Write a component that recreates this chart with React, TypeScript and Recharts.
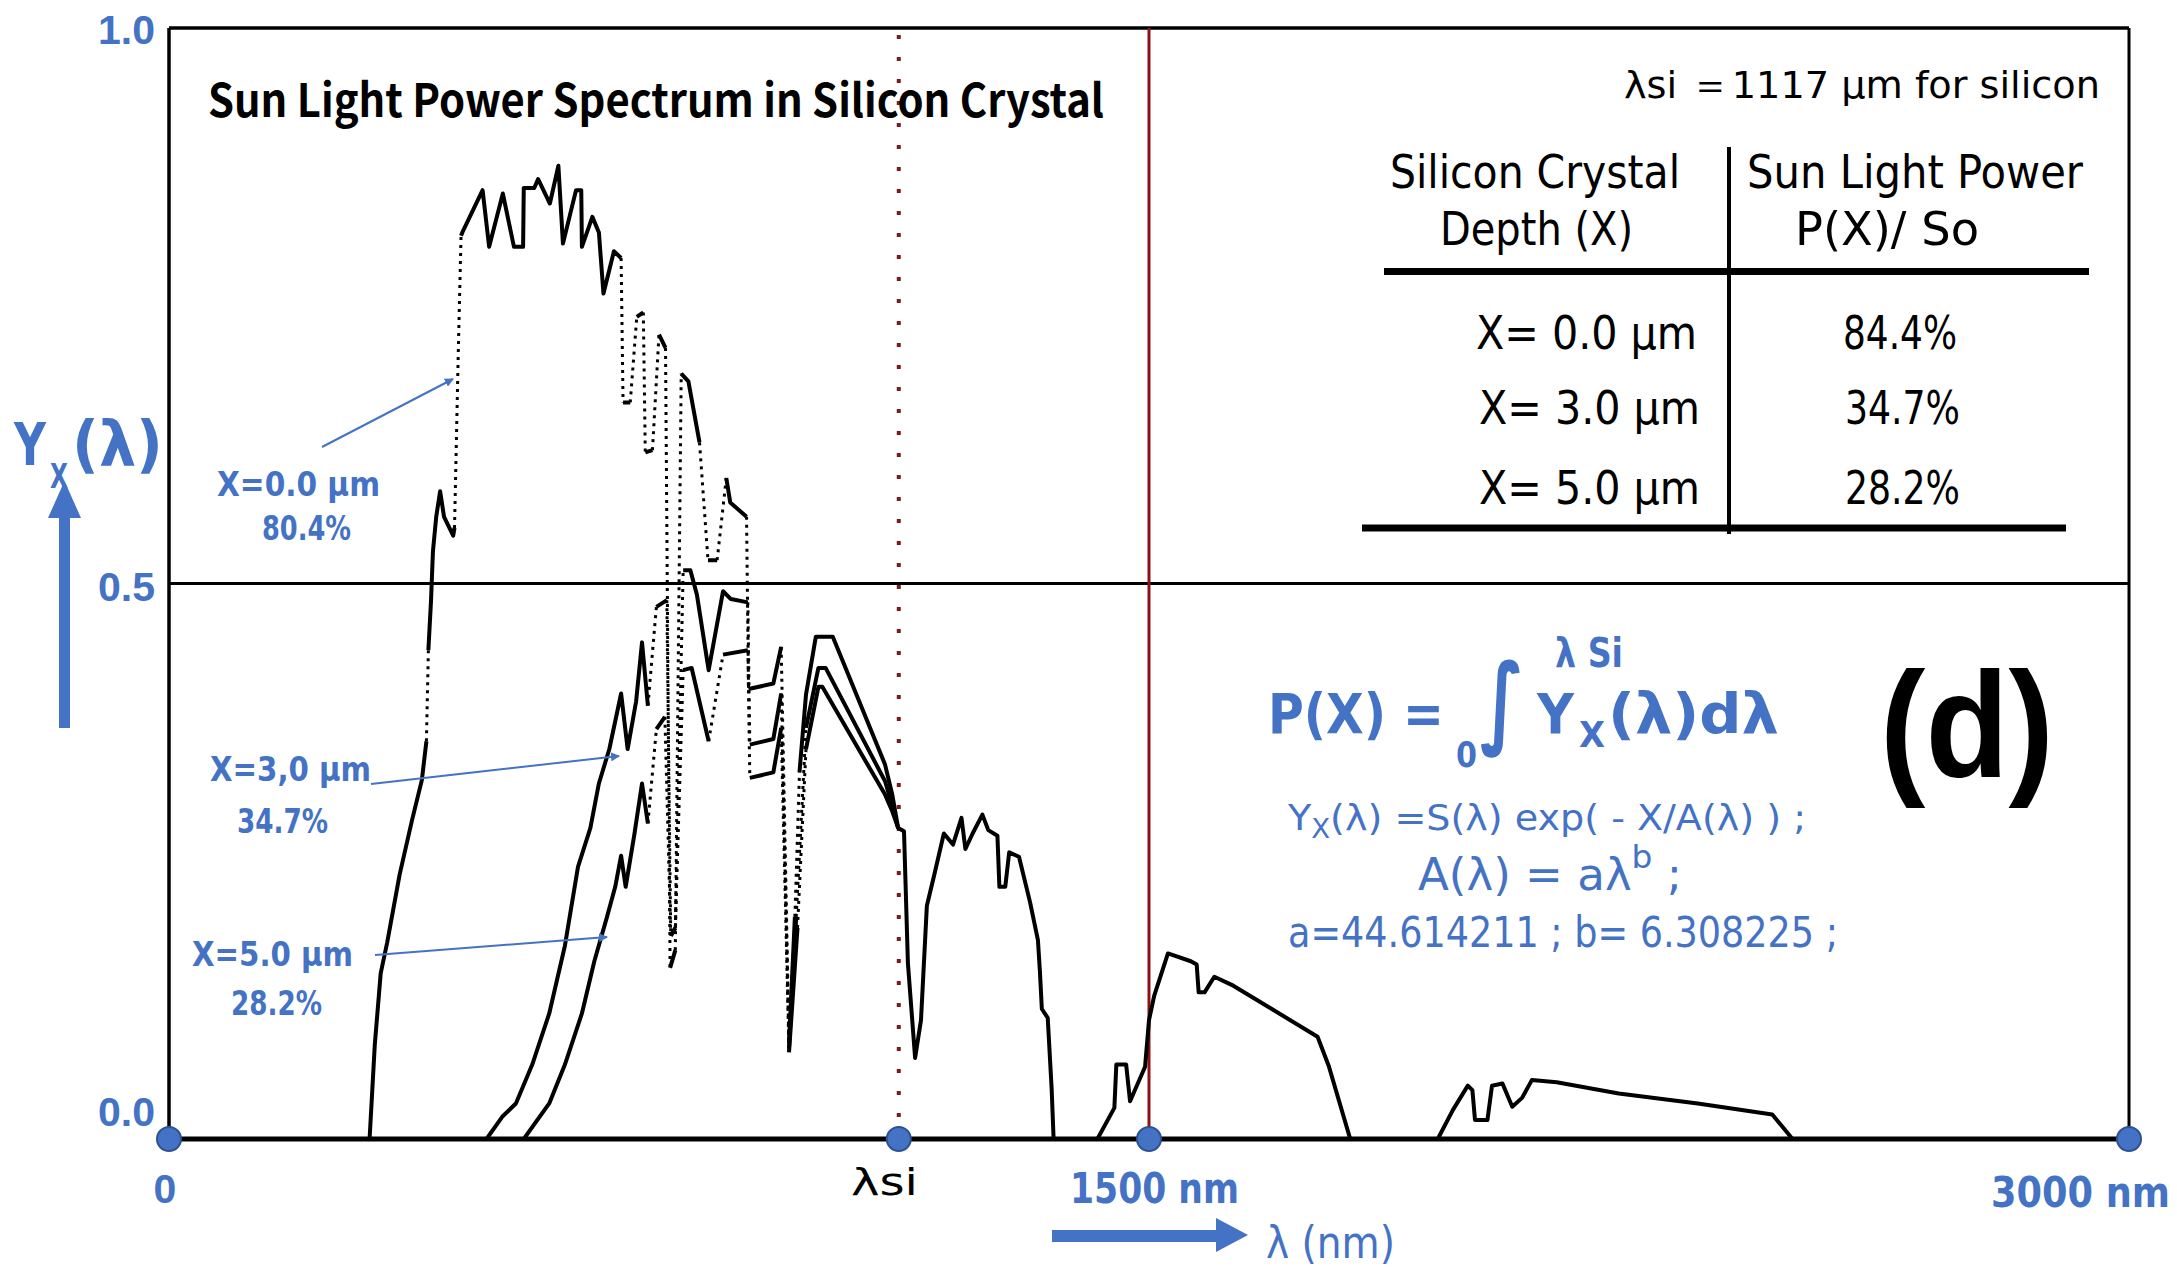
import React from 'react';
import { LineChart, Line, XAxis, YAxis, ReferenceLine, ReferenceDot } from 'recharts';

const W = 2177;
const H = 1269;
const BLUE = '#4472C4';
const NARROW = "'Liberation Sans Narrow', 'DejaVu Sans Condensed', 'Liberation Sans', sans-serif";
const SANS = "'Liberation Sans', Arial, sans-serif";
const CJK = "'Noto Sans CJK JP', 'Noto Sans', sans-serif";

// wavelength (nm) / normalized power, X = 0.0 um (also the common tail above lambda_si)
const x0Lam = [
  307, 315, 324, 334, 353, 372, 387, 394, 397, 401, 404, 409, 415, 421, 435, 437, 443, 447, 449, 480,
  490, 511, 528, 542, 543, 559, 565, 583, 596, 603, 613, 623, 631, 632, 648, 658, 665, 681, 692, 695,
  706, 716, 726, 729, 740, 750, 760, 767, 775, 784, 795, 812, 825, 839, 853, 859, 884, 887, 925, 937,
  949, 958, 965, 975, 990, 1016, 1096, 1107, 1116, 1125, 1131, 1142, 1151, 1160, 1171, 1186, 1200, 1213,
  1219, 1230, 1245, 1254, 1268, 1271, 1280, 1286, 1301, 1318, 1330, 1333, 1336, 1345, 1351, 1354, 1421,
  1447, 1450, 1465, 1471, 1494, 1500, 1508, 1529, 1564, 1573, 1576, 1585, 1600, 1629, 1688, 1758, 1775,
  1808, 1942, 1965, 1988, 1995, 1999, 2018, 2025, 2041, 2056, 2071, 2086, 2124, 2219, 2340, 2454, 2485,
];
const x0Val = [
  0, 0.085, 0.149, 0.177, 0.238, 0.287, 0.323, 0.358, 0.44, 0.484, 0.529, 0.56, 0.583, 0.56, 0.543, 0.55, 0.714, 0.813, 0.816, 0.854,
  0.803, 0.851, 0.803, 0.803, 0.856, 0.856, 0.864, 0.842, 0.876, 0.806, 0.83, 0.854, 0.854, 0.803, 0.83, 0.816, 0.761, 0.799, 0.793, 0.663,
  0.663, 0.74, 0.744, 0.618, 0.62, 0.724, 0.712, 0.154, 0.17, 0.689, 0.682, 0.627, 0.521, 0.521, 0.595, 0.573, 0.56, 0.405, 0.41, 0.443,
  0.087, 0.2, 0.33, 0.4, 0.452, 0.452, 0.337, 0.31, 0.28, 0.277, 0.158, 0.073, 0.107, 0.21, 0.237, 0.275, 0.265, 0.289,
  0.261, 0.275, 0.292, 0.278, 0.273, 0.227, 0.227, 0.258, 0.254, 0.213, 0.179, 0.151, 0.117, 0.109, 0.045, 0, 0,
  0.028, 0.067, 0.067, 0.034, 0.065, 0.107, 0.129, 0.167, 0.16, 0.157, 0.132, 0.132, 0.146, 0.138, 0.117, 0.092, 0.066,
  0, 0, 0.026, 0.048, 0.044, 0.017, 0.017, 0.048, 0.05, 0.029, 0.037, 0.053, 0.051, 0.041, 0.032, 0.022, 0,
];

// X = 3.0 um
const x3Lam = [
  360, 486, 510, 531, 556, 582, 606, 626, 645, 658, 674, 692, 702, 715, 724, 733, 746, 762, 768, 775,
  787, 798, 808, 826, 848, 860, 886, 889, 925, 937, 949, 960, 975, 994, 1005, 1096, 1107, 1116,
];
const x3Val = [
  0, 0, 0.02, 0.032, 0.067, 0.113, 0.174, 0.245, 0.28, 0.32, 0.351, 0.401, 0.351, 0.394, 0.447, 0.39, 0.479, 0.485, 0.183, 0.19,
  0.512, 0.512, 0.49, 0.422, 0.493, 0.486, 0.483, 0.355, 0.36, 0.401, 0.082, 0.2, 0.37, 0.424, 0.424, 0.322, 0.3, 0.28,
];

// X = 5.0 um
const x5Lam = [
  360, 543, 582, 606, 632, 651, 670, 683, 692, 699, 712, 724, 733, 746, 759, 768, 775, 787, 800, 826,
  848, 886, 889, 925, 937, 949, 962, 975, 994, 1000, 1096, 1107, 1116,
];
const x5Val = [
  0, 0, 0.032, 0.067, 0.113, 0.16, 0.199, 0.227, 0.255, 0.227, 0.273, 0.32, 0.284, 0.369, 0.38, 0.183, 0.19, 0.422, 0.424, 0.358,
  0.436, 0.44, 0.325, 0.33, 0.37, 0.078, 0.19, 0.351, 0.407, 0.407, 0.31, 0.295, 0.28,
];

const LAMBDA_SI = 1117;
const axisMarks = [0, LAMBDA_SI, 1500, 3000];

const MARGIN = { top: 28, right: 48, bottom: 130, left: 169 };
const PX_X = (W - MARGIN.left - MARGIN.right) / 3000;
const PX_Y = H - MARGIN.top - MARGIN.bottom;

// long steep jumps in the upper part of the curves are drawn dotted in the original
function splitRuns(lam: number[], val: number[]) {
  const solid: { lam: number; y: number | null }[] = [];
  const dotted: { lam: number; y: number | null }[] = [];
  let prev: boolean | null = null;
  for (let i = 0; i < lam.length - 1; i++) {
    const dx = Math.abs(lam[i + 1] - lam[i]) * PX_X;
    const dy = Math.abs(val[i + 1] - val[i]) * PX_Y;
    const steep = dy > 3 * dx && dy > 80 && Math.max(val[i], val[i + 1]) > 0.3;
    const rows = steep ? dotted : solid;
    if (prev !== steep) {
      if (rows.length) rows.push({ lam: lam[i], y: null });
      rows.push({ lam: lam[i], y: val[i] });
    }
    rows.push({ lam: lam[i + 1], y: val[i + 1] });
    prev = steep;
  }
  return { solid, dotted };
}

const curves = [splitRuns(x0Lam, x0Val), splitRuns(x3Lam, x3Val), splitRuns(x5Lam, x5Val)];

function Overlay() {
  const fit = { lengthAdjust: 'spacingAndGlyphs' as const };
  return (
    <svg width={W} height={H} style={{ position: 'absolute', left: 0, top: 0, pointerEvents: 'none' }}>
      <defs>
        <marker id="ah" markerWidth="9" markerHeight="9" refX="8" refY="4.5" orient="auto" markerUnits="userSpaceOnUse">
          <path d="M0,0 L9,4.5 L0,9 z" fill={BLUE} />
        </marker>
      </defs>

      {/* y tick labels */}
      <g fontFamily={SANS} fontWeight="bold" fontSize={41} fill={BLUE} textAnchor="end">
        <text x={155} y={44}>1.0</text>
        <text x={155} y={601}>0.5</text>
        <text x={155} y={1126}>0.0</text>
      </g>
      <text x={165} y={1203} fontFamily={SANS} fontWeight="bold" fontSize={41} fill={BLUE} textAnchor="middle">0</text>

      {/* y title + arrow */}
      <text x={14} y={465} fontFamily={NARROW} fontWeight="bold" fill={BLUE} fontSize={58}>
        <tspan x={14} y={465} textLength={32} {...fit}>Y</tspan>
        <tspan x={50} y={488} fontSize={34} textLength={18} {...fit}>X</tspan>
        <tspan x={72} y={465} fontSize={62} textLength={91} {...fit}>(λ)</tspan>
      </text>
      <rect x={59} y={516} width={11} height={212} fill={BLUE} />
      <polygon points="48,518 81,518 64.5,481" fill={BLUE} />

      {/* x labels + arrow */}
      <text x={851} y={1195} fontFamily={NARROW} fontSize={38} fill="#000" textLength={67} {...fit}>λsi</text>
      <g fontFamily={NARROW} fontWeight="bold" fontSize={42} fill={BLUE}>
        <text x={1070} y={1203} textLength={169} {...fit}>1500 nm</text>
        <text x={1991} y={1207} textLength={179} {...fit}>3000 nm</text>
      </g>
      <rect x={1052} y={1230} width={166} height={12} fill={BLUE} />
      <polygon points="1216,1218 1216,1252 1248,1235" fill={BLUE} />
      <text x={1266} y={1258} fontFamily={NARROW} fontSize={44} fill={BLUE} textLength={129} {...fit}>λ (nm)</text>

      {/* title */}
      <text x={208} y={117} fontFamily={CJK} fontWeight={700} fontSize={46} fill="#000" textLength={896} {...fit}>
        Sun Light Power Spectrum in Silicon Crystal
      </text>

      {/* curve annotations */}
      <g fontFamily={NARROW} fontWeight="bold" fontSize={34} fill={BLUE}>
        <text x={217} y={496} textLength={163} {...fit}>X=0.0 μm</text>
        <text x={262} y={540} textLength={89} {...fit}>80.4%</text>
        <text x={210} y={781} textLength={161} {...fit}>X=3,0 μm</text>
        <text x={237} y={833} textLength={91} {...fit}>34.7%</text>
        <text x={192} y={966} textLength={161} {...fit}>X=5.0 μm</text>
        <text x={231} y={1015} textLength={91} {...fit}>28.2%</text>
      </g>
      <g stroke={BLUE} strokeWidth={2} markerEnd="url(#ah)">
        <line x1={322} y1={447} x2={453} y2={379} />
        <line x1={371} y1={784} x2={619} y2={756} />
        <line x1={375} y1={955} x2={607} y2={937} />
      </g>

      {/* table */}
      <g fontFamily={NARROW} fontSize={46} fill="#000">
        <text x={1624} y={98} fontSize={38} textLength={476} {...fit}>λsi ＝1117 μm for silicon</text>
        <text x={1390} y={188} textLength={290} {...fit}>Silicon Crystal</text>
        <text x={1440} y={245} textLength={193} {...fit}>Depth (X)</text>
        <text x={1747} y={188} textLength={336} {...fit}>Sun Light Power</text>
        <text x={1795} y={245} textLength={184} {...fit}>P(X)/ So</text>
        <text x={1476} y={349} textLength={221} {...fit}>X= 0.0 μm</text>
        <text x={1843} y={349} textLength={114} {...fit}>84.4%</text>
        <text x={1479} y={424} textLength={221} {...fit}>X= 3.0 μm</text>
        <text x={1845} y={424} textLength={115} {...fit}>34.7%</text>
        <text x={1479} y={504} textLength={221} {...fit}>X= 5.0 μm</text>
        <text x={1845} y={504} textLength={115} {...fit}>28.2%</text>
      </g>
      <line x1={1729} y1={147} x2={1729} y2={534} stroke="#000" strokeWidth={4} />
      <line x1={1384} y1={271.5} x2={2089} y2={271.5} stroke="#000" strokeWidth={7} />
      <line x1={1362} y1={528} x2={2066} y2={528} stroke="#000" strokeWidth={7} />

      {/* formula */}
      <text x={1268} y={733} fontFamily={NARROW} fontWeight="bold" fill={BLUE} fontSize={56}>
        <tspan x={1268} y={733} textLength={176} {...fit}>P(X) =</tspan>
        <tspan x={1456} y={767} fontSize={36} textLength={21} {...fit}>0</tspan>
        <tspan x={1480} y={735} fontFamily="'DejaVu Sans', sans-serif" fontSize={100} textLength={44} {...fit}>∫</tspan>
        <tspan x={1555} y={667} fontSize={40} textLength={68} {...fit}>λ Si</tspan>
        <tspan x={1537} y={733} textLength={37} {...fit}>Y</tspan>
        <tspan x={1579} y={747} fontSize={36} textLength={26} {...fit}>X</tspan>
        <tspan x={1608} y={733} textLength={171} {...fit}>(λ)dλ</tspan>
      </text>
      <g fontFamily={NARROW} fill={BLUE}>
        <text x={1288} y={830} fontSize={36} textLength={518} {...fit}>
          <tspan>Y</tspan>
          <tspan fontSize={26} dy={8}>X</tspan>
          <tspan dy={-8}>(λ)  =S(λ) exp( - X/A(λ) ) ;</tspan>
        </text>
        <text x={1418} y={890} fontSize={44} textLength={264} {...fit}>
          <tspan>A(λ)  = aλ</tspan>
          <tspan fontSize={32} dy={-22}>b</tspan>
          <tspan dy={22}> ;</tspan>
        </text>
        <text x={1288} y={947} fontSize={42} textLength={550} {...fit}>a=44.614211  ; b= 6.308225 ;</text>
      </g>
      <text x={1880} y={777} fontFamily={SANS} fontWeight="bold" fontSize={150} fill="#000" textLength={174} {...fit}>(d)</text>
    </svg>
  );
}

export default function App() {
  return (
    <div style={{ position: 'absolute', left: 0, top: 0, width: W, height: H, background: '#fff' }}>
      <LineChart width={W} height={H} margin={MARGIN}>
        <XAxis type="number" dataKey="lam" domain={[0, 3000]} hide allowDataOverflow />
        <YAxis type="number" domain={[0, 1]} hide allowDataOverflow />
        <ReferenceLine y={1} stroke="#000" strokeWidth={3.5} />
        <ReferenceLine y={0.5} stroke="#000" strokeWidth={3} />
        <ReferenceLine x={0} stroke="#000" strokeWidth={3.5} />
        <ReferenceLine x={3000} stroke="#000" strokeWidth={3} />
        <ReferenceLine x={1500} stroke="#8e1212" strokeWidth={3} />
        <ReferenceLine x={LAMBDA_SI} stroke="#7a1a1a" strokeWidth={4} strokeDasharray="4 18" />
        {curves.map((c, i) => (
          <Line
            key={`s${i}`}
            data={c.solid}
            dataKey="y"
            type="linear"
            stroke="#000"
            strokeWidth={4}
            strokeLinejoin="round"
            dot={false}
            activeDot={false}
            connectNulls={false}
            isAnimationActive={false}
          />
        ))}
        {curves.map((c, i) => (
          <Line
            key={`d${i}`}
            data={c.dotted}
            dataKey="y"
            type="linear"
            stroke="#000"
            strokeWidth={3}
            strokeDasharray="3 5"
            dot={false}
            activeDot={false}
            connectNulls={false}
            isAnimationActive={false}
          />
        ))}
        <ReferenceLine y={0} stroke="#000" strokeWidth={5} />
        {axisMarks.map((m) => (
          <ReferenceDot key={m} x={m} y={0} r={12} fill={BLUE} stroke="#2F528F" strokeWidth={2} />
        ))}
      </LineChart>
      <Overlay />
    </div>
  );
}
